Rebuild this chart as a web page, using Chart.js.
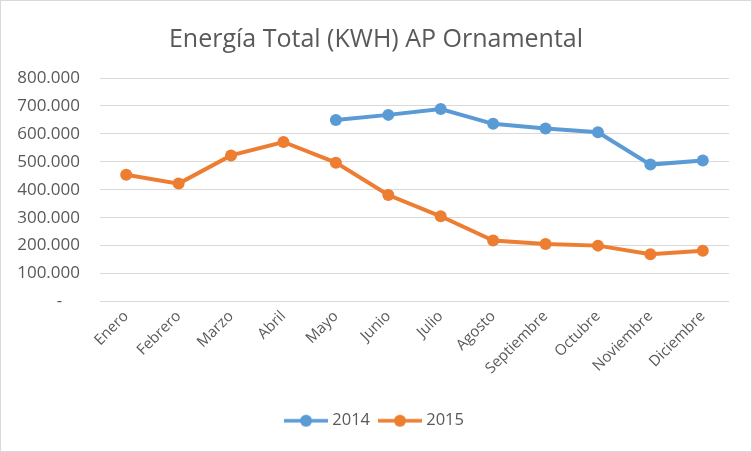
<!DOCTYPE html>
<html>
<head>
<meta charset="utf-8">
<script src="https://cdn.jsdelivr.net/npm/chart.js@4"></script>
<style>
  html, body { margin: 0; padding: 0; background: #fff; }
  #wrap { width: 752px; height: 452px; box-sizing: border-box; border: 1px solid #d9d9d9; }
  #wrap canvas { display: block; }
</style>
</head>
<body>
<div id="wrap"><canvas id="myChart" width="750" height="450"></canvas></div>
<script>
const months = ['Enero', 'Febrero', 'Marzo', 'Abril', 'Mayo', 'Junio', 'Julio',
  'Agosto', 'Septiembre', 'Octubre', 'Noviembre', 'Diciembre'];
const values2014 = [null, null, null, null, 650000, 668000, 689000, 636000, 619000, 606000, 490000, 505000];
const values2015 = [454000, 422000, 523000, 571000, 497000, 381000, 305000, 218000, 206000, 200000, 169000, 182000];
const yTicks = [0, 100000, 200000, 300000, 400000, 500000, 600000, 700000, 800000];

const BLUE = '#5B9BD5';
const ORANGE = '#ED7D31';
const TEXT = '#595959';
const FONT = "'Open Sans', sans-serif";

function fmt(v) {
  if (v === 0) return '-    ';
  return String(v).replace(/\B(?=(\d{3})+(?!\d))/g, '.');
}

// legend marker: line with a dot in the middle
function legendMarker(color) {
  const c = document.createElement('canvas');
  c.width = 44; c.height = 14;
  const g = c.getContext('2d');
  g.strokeStyle = color;
  g.lineWidth = 3.5;
  g.beginPath(); g.moveTo(0, 7); g.lineTo(44, 7); g.stroke();
  g.fillStyle = color;
  g.beginPath(); g.arc(22, 7, 6, 0, Math.PI * 2); g.fill();
  return c;
}

const ctx = document.getElementById('myChart').getContext('2d');
new Chart(ctx, {
  type: 'line',
  data: {
    labels: months,
    datasets: [
      {
        label: '2014',
        data: values2014,
        borderColor: BLUE,
        backgroundColor: BLUE,
        borderWidth: 4,
        pointRadius: 6,
        pointHoverRadius: 6,
        pointBorderWidth: 0,
        tension: 0
      },
      {
        label: '2015',
        data: values2015,
        borderColor: ORANGE,
        backgroundColor: ORANGE,
        borderWidth: 4,
        pointRadius: 6,
        pointHoverRadius: 6,
        pointBorderWidth: 0,
        tension: 0
      }
    ]
  },
  options: {
    responsive: false,
    animation: false,
    layout: { padding: { left: 0, right: 0, top: 0, bottom: 12 } },
    plugins: {
      title: {
        display: true,
        text: 'Energía Total (KWH) AP Ornamental',
        color: TEXT,
        font: { family: FONT, size: 25, weight: 'normal' },
        padding: { top: 24, bottom: 23 }
      },
      legend: {
        position: 'bottom',
        labels: {
          color: TEXT,
          font: { family: FONT, size: 16.5 },
          usePointStyle: true,
          pointStyleWidth: 36,
          padding: 12,
          generateLabels(chart) {
            return chart.data.datasets.map((ds, i) => ({
              text: ds.label,
              fontColor: TEXT,
              pointStyle: legendMarker(ds.borderColor),
              lineWidth: 0,
              strokeStyle: 'transparent',
              fillStyle: ds.borderColor,
              datasetIndex: i,
              hidden: false
            }));
          }
        }
      },
      tooltip: { enabled: false }
    },
    scales: {
      x: {
        offset: true,
        grid: { display: false, drawTicks: false },
        border: { display: false },
        ticks: {
          color: TEXT,
          font: { family: FONT, size: 15 },
          minRotation: 45,
          maxRotation: 45,
          padding: 6
        },
        afterFit(scale) { scale.height = 99; }
      },
      y: {
        min: 0,
        max: 800000,
        afterBuildTicks(scale) { scale.ticks = yTicks.map(v => ({ value: v })); },
        grid: { color: '#d9d9d9', lineWidth: 1, drawTicks: false },
        border: { display: false },
        ticks: {
          color: TEXT,
          font: { family: FONT, size: 17 },
          padding: 20,
          callback: v => fmt(v)
        },
        afterFit(scale) { scale.width = 99; }
      },
      // empty right-hand spacer so the plot ends before the edge
      spacer: {
        type: 'linear',
        position: 'right',
        grid: { display: false, drawTicks: false },
        border: { display: false },
        ticks: { display: false },
        afterFit(scale) { scale.width = 22; }
      }
    }
  }
});
</script>
</body>
</html>
